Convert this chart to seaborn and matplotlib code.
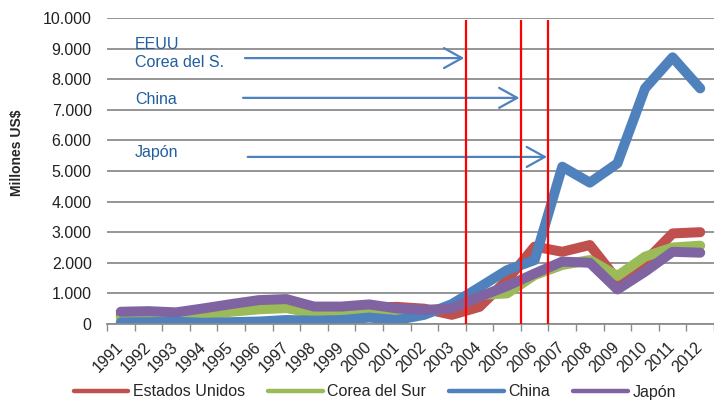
import numpy as np
import pandas as pd
import matplotlib
matplotlib.use('Agg')
import matplotlib.pyplot as plt
import seaborn as sns
from matplotlib.lines import Line2D

# data
years = [str(y) for y in range(1991, 2013)]
estados_unidos = [290, 340, 300, 350, 480, 620, 650, 400, 440, 540, 560, 500,
                  300, 560, 1440, 2530, 2360, 2580, 1440, 2040, 2960, 3000]
corea_del_sur = [200, 160, 200, 300, 400, 480, 520, 350, 350, 400, 380, 400,
                 550, 950, 1000, 1600, 1930, 2090, 1570, 2200, 2500, 2560]
china = [50, 60, 70, 40, 60, 80, 130, 110, 130, 210, 130, 300,
         650, 1200, 1760, 2090, 5140, 4620, 5250, 7700, 8715, 7700]
japon = [400, 420, 380, 510, 650, 780, 815, 570, 570, 640, 510, 460,
         510, 890, 1240, 1650, 2040, 2000, 1130, 1710, 2360, 2330]
series_names = ['Estados Unidos', 'Corea del Sur', 'China', 'Japón']
colors = ['#C0504D', '#9BBB59', '#4F81BD', '#8064A2']

# red marker lines (between categories) and the arrow notes
red_lines = [12.5, 14.5, 15.5]
note_texts = ['EEUU', 'Corea del S.', 'China', 'Japón']
note_y = [9150, 8560, 7350, 5620]
arrow_y = [8690, 7390, 5460]
arrow_x0 = [4.5, 4.43, 4.6]
arrow_x1 = [12.45, 14.45, 15.45]

df = pd.DataFrame({
    'idx': list(range(len(years))) * 4,
    'valor': estados_unidos + corea_del_sur + china + japon,
    'pais': sum([[n] * len(years) for n in series_names], []),
})

sns.set_theme(style='white')
plt.rcParams['font.family'] = ['Liberation Sans', 'DejaVu Sans']

fig = plt.figure(figsize=(7.14, 4.0), dpi=100)
ax = fig.add_axes([107 / 714, 76 / 400, 607 / 714, 306 / 400])

sns.lineplot(data=df, x='idx', y='valor', hue='pais', hue_order=series_names,
             palette=colors, linewidth=7.2, ax=ax, legend=False,
             solid_capstyle='round', solid_joinstyle='round')

ax.set_xlim(-0.5, len(years) - 0.5)
ax.set_ylim(0, 10000)
ax.set_yticks(np.arange(0, 10001, 1000))
ax.set_yticklabels([f'{int(v):,}'.replace(',', '.') for v in np.arange(0, 10001, 1000)],
                   fontsize=11.5, color='#222222')
ax.yaxis.grid(True, color='#8C8C8C', linewidth=1.3)
ax.set_axisbelow(True)
ax.tick_params(axis='y', length=0, pad=11)

ax.set_xticks(range(len(years)))
ax.set_xticklabels(years, rotation=45, ha='right', va='center',
                   rotation_mode='anchor', fontsize=11.5, color='#222222')
ax.set_xticks(np.arange(-0.5, len(years), 1), minor=True)
ax.tick_params(axis='x', which='major', length=0, pad=15)
ax.tick_params(axis='x', which='minor', length=5, color='#8C8C8C', width=1, bottom=True)
ax.set_xlabel('')
ax.set_ylabel('')

for s in ['top', 'right', 'left']:
    ax.spines[s].set_visible(False)
ax.spines['bottom'].set_color('#8C8C8C')
ax.spines['bottom'].set_linewidth(1.3)

ax.vlines(red_lines, 0, 9930, color='#FF0000', linewidth=1.6, zorder=5)

for t, y in zip(note_texts, note_y):
    ax.text(0.51, y, t, color='#215E9E', fontsize=11.5, ha='left', va='center')
for x0, x1, y in zip(arrow_x0, arrow_x1, arrow_y):
    ax.annotate('', xy=(x1, y), xytext=(x0, y),
                arrowprops=dict(arrowstyle='->,head_length=0.65,head_width=0.36',
                                color='#4F81BD', linewidth=1.6, mutation_scale=20,
                                shrinkA=0, shrinkB=0))

fig.text(17 / 714, 1 - 153 / 400, 'Millones US$', rotation=90, fontsize=10,
         fontweight='bold', ha='center', va='center')

handles = [Line2D([0], [0], color=c, linewidth=3.2, solid_capstyle='round') for c in colors]
fig.legend(handles, series_names, loc='center', bbox_to_anchor=(375 / 714, 1 - 392 / 400),
           ncol=4, frameon=False, fontsize=11.5, handlelength=3.4, handletextpad=0.3,
           columnspacing=1.45, borderpad=0)

fig.savefig('out.png', dpi=100)
